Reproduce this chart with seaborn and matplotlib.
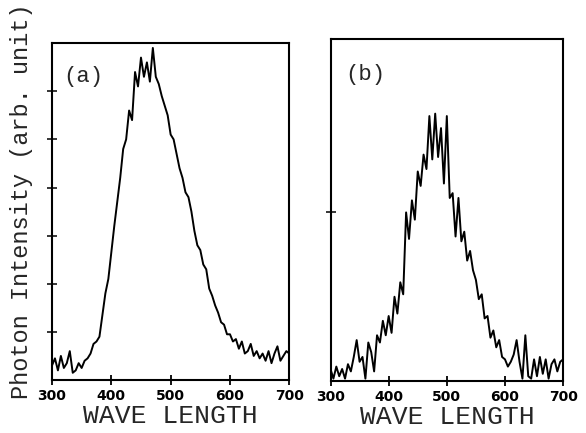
import matplotlib
matplotlib.use("Agg")
import matplotlib.pyplot as plt
import seaborn as sns
import pandas as pd
import numpy as np

# ---- data ----
wavelength = list(range(300, 705, 5))

intensity_a = [0.30, 0.45, 0.20, 0.50, 0.25, 0.35, 0.60, 0.15, 0.20, 0.35,
               0.25, 0.40, 0.45, 0.55, 0.75, 0.80, 0.90, 1.35, 1.80, 2.10,
               2.65, 3.20, 3.70, 4.20, 4.80, 5.00, 5.60, 5.40, 6.40, 6.10,
               6.70, 6.30, 6.60, 6.20, 6.90, 6.30, 6.15, 5.90, 5.70, 5.50,
               5.10, 5.00, 4.70, 4.40, 4.20, 3.90, 3.80, 3.50, 3.10, 2.80,
               2.70, 2.40, 2.30, 1.90, 1.75, 1.55, 1.40, 1.20, 1.15, 0.95,
               0.95, 0.80, 0.85, 0.65, 0.80, 0.55, 0.60, 0.75, 0.50, 0.60,
               0.45, 0.55, 0.40, 0.60, 0.35, 0.55, 0.70, 0.40, 0.50, 0.60,
               0.55]

intensity_b = [0.25, 0.05, 0.30, 0.10, 0.25, 0.05, 0.35, 0.20, 0.50, 0.85,
               0.40, 0.50, 0.05, 0.80, 0.60, 0.20, 0.95, 0.80, 1.25, 0.95,
               1.35, 1.00, 1.75, 1.40, 2.05, 1.80, 3.50, 2.95, 3.75, 3.35,
               4.35, 4.05, 4.70, 4.40, 5.50, 4.60, 5.55, 4.65, 5.25, 4.10,
               5.50, 3.80, 3.90, 3.00, 3.80, 2.90, 3.10, 2.50, 2.70, 2.30,
               2.10, 1.70, 1.80, 1.30, 1.35, 0.90, 1.05, 0.70, 0.85, 0.50,
               0.45, 0.30, 0.40, 0.55, 0.85, 0.40, 0.05, 0.95, 0.10, 0.05,
               0.45, 0.10, 0.50, 0.15, 0.45, 0.05, 0.35, 0.45, 0.20, 0.40,
               0.45]

x_ticks = [300, 400, 500, 600, 700]
x_tick_labels = ["300", "400", "500", "600", "700"]
panel_labels = ["(a)", "(b)"]
x_title = "WAVE LENGTH"
y_title = "Photon Intensity (arb. unit)"

df_a = pd.DataFrame({"wl": wavelength, "I": intensity_a})
df_b = pd.DataFrame({"wl": wavelength, "I": intensity_b})

sns.set_style("white")
mono = "Liberation Mono"

fig = plt.figure(figsize=(5.86, 4.33), dpi=100)
ax_a = fig.add_axes([0.0887, 0.1224, 0.405, 0.778])
ax_b = fig.add_axes([0.564, 0.120, 0.397, 0.790])

for ax, df, lab, lx, ly in [(ax_a, df_a, panel_labels[0], 0.046, 0.90),
                            (ax_b, df_b, panel_labels[1], 0.062, 0.895)]:
    sns.lineplot(data=df, x="wl", y="I", ax=ax, color="black", linewidth=1.4)
    ax.set_xlim(300, 700)
    ax.set_ylim(0, 7.0)
    ax.set_xticks(x_ticks)
    ax.set_xticklabels(x_tick_labels, fontsize=10, fontweight="bold",
                       family="DejaVu Sans")
    ax.tick_params(axis="x", direction="inout", length=7, width=1.3,
                   pad=3, bottom=True, colors="black")
    ax.tick_params(axis="y", direction="inout", length=7, width=1.3,
                   left=True, labelleft=False)
    for s in ax.spines.values():
        s.set_color("black")
        s.set_linewidth(1.5)
    ax.set_xlabel(x_title, fontsize=19, family=mono, labelpad=1)
    ax.set_ylabel("")
    ax.text(lx, ly, lab, transform=ax.transAxes, fontsize=16, family=mono,
            ha="left", va="center")

ax_a.set_yticks([1, 2, 3, 4, 5, 6])
ax_b.set_ylim(0, 7.1)
ax_b.set_yticks([3.5])

fig.text(0.037, 0.535, y_title, rotation=90, fontsize=17, family=mono,
         ha="center", va="center")

fig.savefig("out.png", dpi=100)
